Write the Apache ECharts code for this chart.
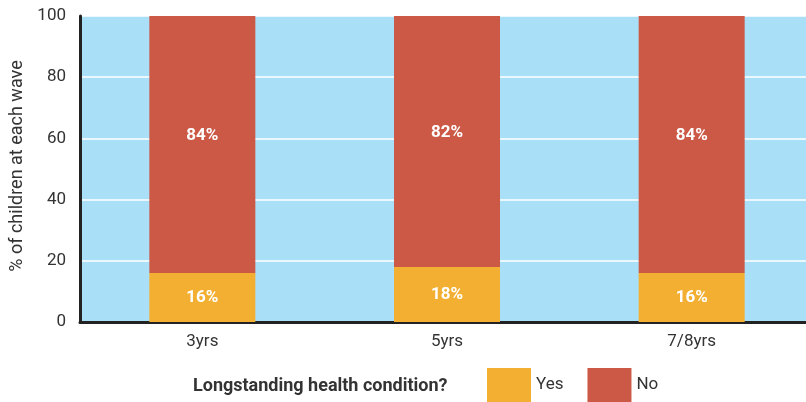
<!DOCTYPE html>
<html>
<head>
<meta charset="utf-8">
<script src="https://cdn.jsdelivr.net/npm/echarts@6/dist/echarts.min.js"></script>
<style>
  html, body { margin: 0; padding: 0; background: #fff; }
  #chart { width: 806px; height: 402px; }
</style>
</head>
<body>
<div id="chart"></div>
<script>
  // data
  var waves = ['3yrs', '5yrs', '7/8yrs'];
  var yesVals = [16, 18, 16];
  var noVals = [84, 82, 84];
  var yTicks = [0, 20, 40, 60, 80, 100];

  var font = 'Roboto, "Noto Sans", sans-serif';
  var myChart = echarts.init(document.getElementById('chart'));

  var option = {
    animation: false,
    backgroundColor: '#fff',
    color: ['#F3AF31', '#CB5946'],
    grid: { left: 80, width: 734, top: 16, bottom: 80, show: true, backgroundColor: '#AADFF8', borderWidth: 0, outerBoundsMode: 'none' },
    legend: {
      left: 482, top: 363,
      itemWidth: 44, itemHeight: 34, itemGap: 24,
      icon: 'rect',
      data: ['Yes', 'No'],
      textStyle: { fontFamily: font, fontSize: 17, color: '#333' }
    },
    graphic: [{
      type: 'text', left: 193, top: 377,
      style: { text: 'Longstanding health condition?', fontFamily: font, fontSize: 18, fontWeight: 'bold', fill: '#333' }
    }],
    xAxis: {
      type: 'category',
      data: waves,
      axisTick: { show: false },
      axisLine: { lineStyle: { color: '#222', width: 3 } },
      axisLabel: { fontFamily: font, fontSize: 17, color: '#333', margin: 11 }
    },
    yAxis: {
      type: 'value',
      min: yTicks[0], max: yTicks[yTicks.length - 1], interval: 20,
      name: '% of children at each wave',
      nameLocation: 'middle',
      nameGap: 54,
      nameTextStyle: { fontFamily: font, fontSize: 18, color: '#333', padding: [0, 0, 0, 6] },
      axisLine: { show: true, lineStyle: { color: '#222', width: 3 } },
      axisTick: { show: false },
      axisLabel: { fontFamily: font, fontSize: 17, color: '#333', margin: 14 },
      splitLine: { lineStyle: { color: '#fff', width: 1.5 } }
    },
    series: [
      {
        name: 'Yes', type: 'bar', stack: 'all', barWidth: 106,
        data: yesVals,
        label: { show: true, position: 'inside', formatter: '{c}%', color: '#fff', fontFamily: font, fontWeight: 'bold', fontSize: 17 }
      },
      {
        name: 'No', type: 'bar', stack: 'all', barWidth: 106,
        data: noVals,
        label: { show: true, position: 'inside', offset: [0, -9], formatter: '{c}%', color: '#fff', fontFamily: font, fontWeight: 'bold', fontSize: 17 }
      }
    ]
  };

  myChart.setOption(option);
</script>
</body>
</html>
